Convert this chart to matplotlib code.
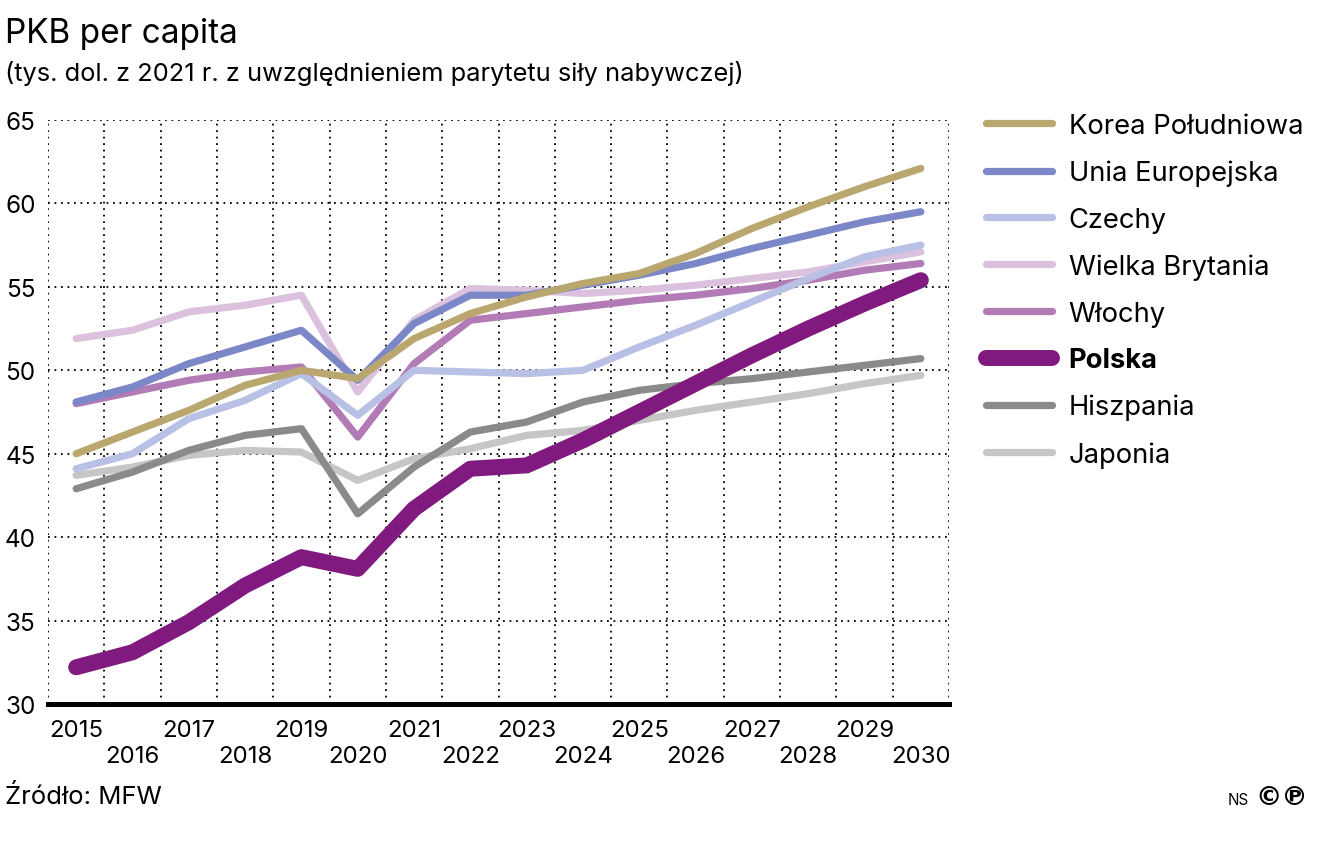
import matplotlib.pyplot as plt
import numpy as np

plt.rcParams['font.family'] = ['Inter', 'DejaVu Sans']

years = list(range(2015, 2031))

korea = [45.0, 46.3, 47.6, 49.1, 50.0, 49.5, 51.9, 53.4, 54.4, 55.2, 55.8, 57.0, 58.5, 59.8, 61.0, 62.1]
ue = [48.1, 49.0, 50.4, 51.4, 52.4, 49.4, 52.8, 54.5, 54.5, 55.1, 55.7, 56.4, 57.3, 58.1, 58.9, 59.5]
czechy = [44.1, 45.0, 47.1, 48.2, 49.8, 47.3, 50.0, 49.9, 49.8, 50.0, 51.4, 52.7, 54.1, 55.5, 56.8, 57.5]
wb = [51.9, 52.4, 53.5, 53.9, 54.5, 48.7, 53.0, 54.9, 54.8, 54.6, 54.8, 55.1, 55.5, 55.9, 56.5, 57.1]
wlochy = [48.0, 48.7, 49.4, 49.9, 50.2, 46.0, 50.4, 53.0, 53.4, 53.8, 54.2, 54.5, 54.9, 55.4, 56.0, 56.4]
polska = [32.2, 33.1, 34.9, 37.1, 38.8, 38.1, 41.7, 44.1, 44.3, 45.8, 47.5, 49.2, 50.9, 52.5, 54.0, 55.4]
hiszpania = [42.9, 43.9, 45.2, 46.1, 46.5, 41.4, 44.2, 46.3, 46.9, 48.1, 48.8, 49.2, 49.5, 49.9, 50.3, 50.7]
japonia = [43.7, 44.2, 44.9, 45.2, 45.1, 43.4, 44.7, 45.3, 46.1, 46.4, 47.0, 47.6, 48.1, 48.6, 49.2, 49.7]

names = ['Korea Południowa', 'Unia Europejska', 'Czechy', 'Wielka Brytania',
         'Włochy', 'Polska', 'Hiszpania', 'Japonia']
series = [korea, ue, czechy, wb, wlochy, polska, hiszpania, japonia]
colors = ['#b9a76f', '#7b87c6', '#b9c0e6', '#dbc1dd', '#b37bb5', '#801a7e', '#8a8a8a', '#c6c6c6']

fig = plt.figure(figsize=(13.35, 8.53), dpi=100)
ax = fig.add_axes([48 / 1335, 1 - 705 / 853, (949 - 48) / 1335, (705 - 121) / 853])

lines = {}
for name, vals, col in reversed(list(zip(names, series, colors))):
    lw = 11.5 if name == 'Polska' else 5.2
    ln, = ax.plot(years, vals, color=col, lw=lw, solid_capstyle='round',
                  solid_joinstyle='round', label=name)
    lines[name] = ln

ax.set_xlim(2014.5, 2030.5)
ax.set_ylim(30, 65)
ax.set_yticks(range(30, 66, 5))
ax.set_xticks(years)
ax.set_xticklabels([str(y) if i % 2 == 0 else '\n' + str(y) for i, y in enumerate(years)])
ax.set_xticks(np.arange(2014.5, 2031, 1), minor=True)

dots = (0, (1, 2.6))
ax.grid(which='minor', axis='x', color='black', lw=1.3, ls=dots)
ax.grid(which='major', axis='y', color='black', lw=1.3, ls=dots)
ax.grid(which='major', axis='x', visible=False)
ax.set_axisbelow(True)

for s in ['top', 'right', 'left']:
    ax.spines[s].set_visible(False)
ax.spines['bottom'].set_linewidth(3.6)
ax.spines['bottom'].set_zorder(5)

ax.tick_params(which='both', length=0)
ax.tick_params(axis='y', labelsize=17.5, pad=9)
ax.tick_params(axis='x', labelsize=17.3, pad=11)

leg = fig.legend([lines[n] for n in names], names, loc='upper left',
                 bbox_to_anchor=(975 / 1335, 1 - 103 / 853), frameon=False,
                 fontsize=19.7, handlelength=2.4, handletextpad=0.62,
                 labelspacing=0.755, borderaxespad=0)
for t in leg.get_texts():
    if t.get_text() == 'Polska':
        t.set_fontweight('bold')

fig.text(5 / 1335, 1 - 34 / 853, 'PKB per capita', fontsize=24, va='center', ha='left')
fig.text(5 / 1335, 1 - 73 / 853,
         '(tys. dol. z 2021 r. z uwzględnieniem parytetu siły nabywczej)',
         fontsize=18.3, va='center', ha='left')
fig.text(5 / 1335, 1 - 797 / 853, 'Źródło: MFW', fontsize=18.5, va='center', ha='left')
fig.text(1249 / 1335, 1 - 801 / 853, 'NS', fontsize=11, va='center', ha='right')
fig.text(1255 / 1335, 1 - 798 / 853, '©℗', fontsize=19, fontweight='bold',
         va='center', ha='left', family='DejaVu Sans')

fig.savefig('out.png', dpi=100)
